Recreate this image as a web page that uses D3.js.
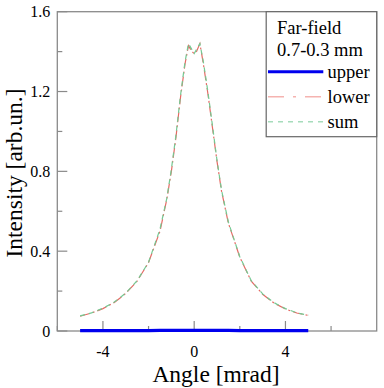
<!DOCTYPE html>
<html>
<head>
<meta charset="utf-8">
<script src="https://cdn.jsdelivr.net/npm/d3@7"></script>
<style>
body { margin: 0; background: #fff; }
text { font-family: "Liberation Serif", "Times New Roman", serif; }
</style>
</head>
<body>
<div id="chart"></div>
<script>
var angle = [-5, -4.5, -4, -3.5, -3, -2.5, -2, -1.5, -1.2, -1, -0.8, -0.6, -0.4, -0.25, -0.1, 0, 0.1, 0.25, 0.4, 0.6, 0.8, 1, 1.2, 1.5, 2, 2.5, 3, 3.5, 4, 4.5, 5];
var upper = [0.002, 0.002, 0.002, 0.002, 0.002, 0.002, 0.002, 0.003, 0.003, 0.003, 0.003, 0.003, 0.003, 0.003, 0.003, 0.003, 0.003, 0.003, 0.003, 0.003, 0.003, 0.003, 0.003, 0.003, 0.002, 0.002, 0.002, 0.002, 0.002, 0.002, 0.002];
var lower = [0.074, 0.09, 0.112, 0.143, 0.188, 0.25, 0.343, 0.50, 0.66, 0.80, 0.97, 1.17, 1.34, 1.43, 1.40, 1.39, 1.40, 1.44, 1.34, 1.19, 1.02, 0.85, 0.70, 0.54, 0.37, 0.25, 0.184, 0.14, 0.11, 0.09, 0.078];
var sum = [0.076, 0.091, 0.114, 0.145, 0.19, 0.252, 0.345, 0.51, 0.665, 0.81, 0.98, 1.18, 1.35, 1.44, 1.41, 1.39, 1.41, 1.44, 1.35, 1.20, 1.03, 0.855, 0.705, 0.545, 0.372, 0.252, 0.186, 0.142, 0.112, 0.091, 0.079];
var xMajor = [-4, 0, 4];
var xMinor = [-6, -2, 2, 6];
var yMajor = [0, 0.4, 0.8, 1.2, 1.6];
var yMinor = [0.2, 0.6, 1.0, 1.4];

var iWidth = 384, iHeight = 388;
var m = {left: 57.3, top: 11.7, right: 376.7, bottom: 331};

var svg = d3.select("#chart").append("svg")
	.attr("width", iWidth)
	.attr("height", iHeight);

var x = d3.scaleLinear().domain([-6, 8]).range([m.left, m.right]);
var y = d3.scaleLinear().domain([0, 1.6]).range([m.bottom, m.top]);

var axisColor = "#8a8a8a";

// frame
svg.append("rect")
	.attr("x", m.left).attr("y", m.top)
	.attr("width", m.right - m.left).attr("height", m.bottom - m.top)
	.attr("fill", "none").attr("stroke", axisColor).attr("stroke-width", 1.3);

// ticks (inward)
var gx = svg.append("g");
gx.selectAll(".maj").data(xMajor).enter().append("line")
	.attr("x1", d => x(d)).attr("x2", d => x(d))
	.attr("y1", m.bottom).attr("y2", m.bottom - 10)
	.attr("stroke", axisColor).attr("stroke-width", 1.2);
gx.selectAll(".min").data(xMinor).enter().append("line")
	.attr("x1", d => x(d)).attr("x2", d => x(d))
	.attr("y1", m.bottom).attr("y2", m.bottom - 5)
	.attr("stroke", axisColor).attr("stroke-width", 1.2);
gx.selectAll("text").data(xMajor).enter().append("text")
	.attr("x", d => x(d)).attr("y", m.bottom + 26)
	.attr("text-anchor", "middle").attr("font-size", 16)
	.text(d => d);

var gy = svg.append("g");
gy.selectAll(".maj").data(yMajor).enter().append("line")
	.attr("x1", m.left).attr("x2", m.left + 10)
	.attr("y1", d => y(d)).attr("y2", d => y(d))
	.attr("stroke", axisColor).attr("stroke-width", 1.2);
gy.selectAll(".min").data(yMinor).enter().append("line")
	.attr("x1", m.left).attr("x2", m.left + 5)
	.attr("y1", d => y(d)).attr("y2", d => y(d))
	.attr("stroke", axisColor).attr("stroke-width", 1.2);
gy.selectAll("text").data(yMajor).enter().append("text")
	.attr("x", m.left - 7).attr("y", d => y(d) + 5.5)
	.attr("text-anchor", "end").attr("font-size", 16)
	.text(d => d === 0 ? "0" : d3.format(".1f")(d));

// titles
svg.append("text")
	.attr("x", 216).attr("y", 382)
	.attr("text-anchor", "middle").attr("font-size", 23.5)
	.text("Angle [mrad]");
svg.append("text")
	.attr("transform", "translate(22,173) rotate(-90)")
	.attr("text-anchor", "middle").attr("font-size", 23.5)
	.text("Intensity [arb.un.]");

// series
var series = [
	{name: "upper", vals: upper, color: "#0000ee", width: 3.2, dash: null, legendColor: "#0000ee", legendDash: null},
	{name: "lower", vals: lower, color: "#e56a64", width: 1.2, dash: "10,3,2,3", legendColor: "#f5b3b0", legendDash: "16,9,3,9"},
	{name: "sum", vals: sum, color: "#74c993", width: 1.2, dash: "5,4", legendColor: "#a6dcbb", legendDash: "5,5"}
];

var line = d3.line().x(d => x(d[0])).y(d => y(d[1]));

series.forEach(function(s) {
	svg.append("path")
		.datum(angle.map((a, i) => [a, s.vals[i]]))
		.attr("d", line)
		.attr("fill", "none")
		.attr("stroke", s.color)
		.attr("stroke-width", s.width)
		.attr("stroke-dasharray", s.dash);
});

// legend
var lg = svg.append("g");
lg.append("rect")
	.attr("x", 266.2).attr("y", m.top)
	.attr("width", m.right - 266.2).attr("height", 125)
	.attr("fill", "#fff").attr("stroke", "#666").attr("stroke-width", 1.2);
lg.append("text").attr("x", 277).attr("y", 34).attr("font-size", 18.5).text("Far-field");
lg.append("text").attr("x", 277).attr("y", 56).attr("font-size", 18.5).text("0.7-0.3 mm");
series.forEach(function(s, i) {
	var ly = 71.7 + i * 25;
	lg.append("line")
		.attr("x1", 268).attr("x2", 323.3)
		.attr("y1", ly).attr("y2", ly)
		.attr("stroke", s.legendColor)
		.attr("stroke-width", s.name === "upper" ? 3 : 1.5)
		.attr("stroke-dasharray", s.legendDash);
	lg.append("text").attr("x", 327.5).attr("y", ly + 6.5).attr("font-size", 18.5).text(s.name);
});
</script>
</body>
</html>
